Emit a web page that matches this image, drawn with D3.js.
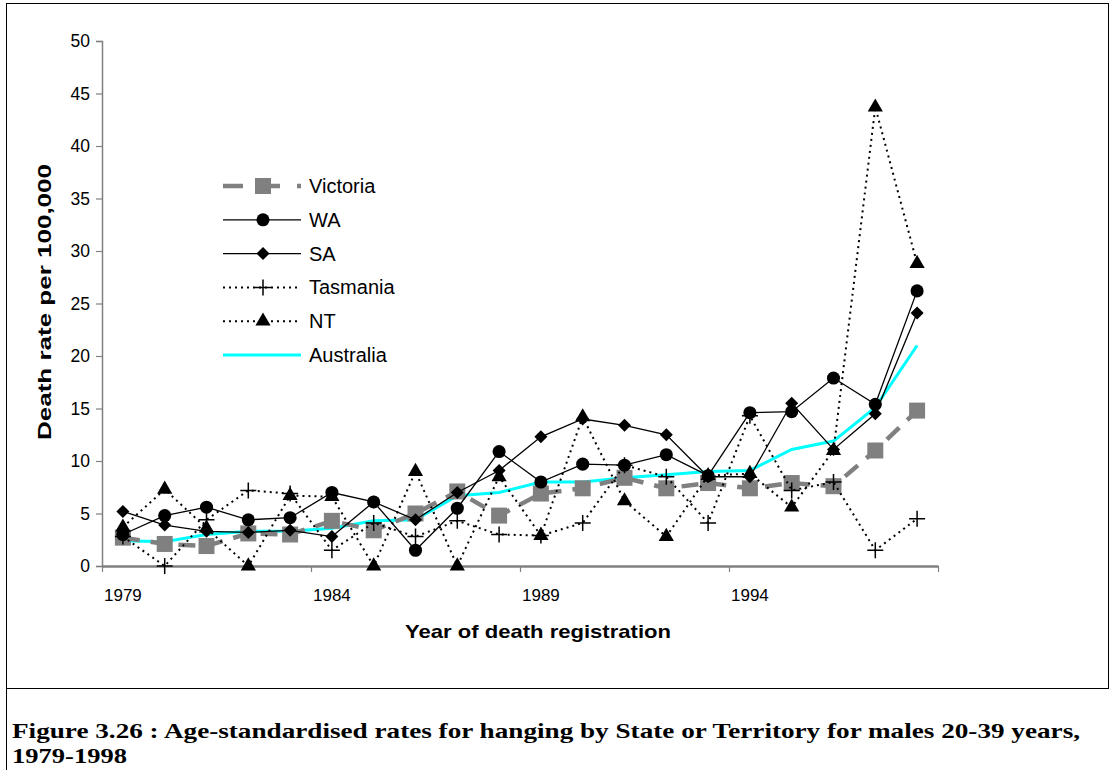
<!DOCTYPE html>
<html>
<head>
<meta charset="utf-8">
<script src="https://cdn.jsdelivr.net/npm/d3@7"></script>
<style>
  body { margin: 0; background: #fff; }
  svg { display: block; }
</style>
</head>
<body>
<div id="chart"></div>
<script>
// years on the x axis
let years = d3.range(1979, 1999);
let yearLabels = [1979, 1984, 1989, 1994];
let yTicks = [0, 5, 10, 15, 20, 25, 30, 35, 40, 45, 50];

// rates per 100,000
let victoria  = [2.7, 2.1, 1.9, 3.1, 3.0, 4.3, 3.4, 5.0, 7.1, 4.8, 6.9, 7.4, 8.4, 7.4, 7.9, 7.4, 7.9, 7.6, 11.0, 14.8];
let wa        = [3.0, 4.8, 5.6, 4.4, 4.6, 7.0, 6.1, 1.5, 5.5, 10.9, 8.0, 9.7, 9.6, 10.6, 8.6, 14.6, 14.7, 17.9, 15.4, 26.2];
let sa        = [5.2, 3.9, 3.3, 3.2, 3.4, 2.8, 6.1, 4.4, 7.0, 9.1, 12.3, 14.0, 13.4, 12.5, 8.5, 8.5, 15.5, 11.1, 14.5, 24.1];
let tasmania  = [2.8, 0.0, 4.4, 7.2, 6.9, 1.5, 4.1, 2.8, 4.3, 3.0, 2.9, 4.1, 9.6, 8.5, 4.1, 14.3, 7.2, 8.0, 1.5, 4.5];
let nt        = [3.7, 7.3, 3.6, 0.0, 6.7, 6.6, 0.0, 9.0, 0.0, 8.5, 2.9, 14.2, 6.2, 2.8, 8.6, 8.8, 5.6, 11.0, 43.7, 28.8];
let australia = [2.4, 2.3, 3.0, 3.3, 3.3, 3.6, 4.3, 4.4, 6.7, 7.0, 8.0, 8.0, 8.4, 8.7, 9.0, 9.1, 11.1, 11.9, 15.1, 21.0];

let W = 1115, H = 770;
let m = { left: 102, right: 938, top: 41, bottom: 566 };
let font = "Arial, 'Liberation Sans', sans-serif";

let svg = d3.select("#chart").append("svg")
    .attr("width", W)
    .attr("height", H);

// frame around the chart
svg.append("rect")
    .attr("x", 6.5).attr("y", 3.5)
    .attr("width", 1102).attr("height", 685)
    .attr("fill", "none").attr("stroke", "#000").attr("stroke-width", 1);
svg.append("line")
    .attr("x1", 6.5).attr("x2", 6.5).attr("y1", 688).attr("y2", H)
    .attr("stroke", "#000");

let x = d3.scaleBand()
    .domain(years)
    .range([m.left, m.right])
    .padding(0);
let xc = (d, i) => x(years[i]) + x.bandwidth() / 2;
let xEdge = d3.scaleLinear().domain([0, years.length]).range([m.left, m.right]);

let y = d3.scaleLinear().domain([0, 50]).range([m.bottom, m.top]);

// y axis
let yAxis = svg.append("g")
    .attr("transform", `translate(${ m.left }, 0)`)
    .call(d3.axisLeft(y).tickValues(yTicks).tickSize(6).tickPadding(6));
yAxis.select(".domain").attr("stroke", "#808080").attr("stroke-width", 1.5);
yAxis.selectAll(".tick line").attr("stroke", "#808080").attr("stroke-width", 1.2);
yAxis.selectAll("text")
    .attr("font-family", font).attr("font-size", 17.5).attr("fill", "#000");

// x axis: marks at category edges, labels at centres
let xAxis = svg.append("g")
    .attr("transform", `translate(0, ${ m.bottom })`)
    .call(d3.axisBottom(xEdge).tickValues([0, 5, 10, 15, 20]).tickFormat("").tickSize(6).tickSizeOuter(0));
xAxis.select(".domain").attr("stroke", "#808080").attr("stroke-width", 2.5);
xAxis.selectAll(".tick line").attr("stroke", "#808080").attr("stroke-width", 1.2);

let xLab = svg.append("g")
    .attr("transform", `translate(0, ${ m.bottom })`)
    .call(d3.axisBottom(x).tickValues(yearLabels).tickSize(0).tickPadding(23));
xLab.select(".domain").remove();
xLab.selectAll("text")
    .attr("font-family", font).attr("font-size", 17).attr("fill", "#000");

// axis titles
svg.append("text")
    .attr("x", 538).attr("y", 638)
    .attr("text-anchor", "middle")
    .attr("font-family", font).attr("font-size", 19).attr("font-weight", "bold")
    .attr("textLength", 266).attr("lengthAdjust", "spacingAndGlyphs")
    .text("Year of death registration");
svg.append("text")
    .attr("transform", "translate(51, 302) rotate(-90)")
    .attr("text-anchor", "middle")
    .attr("font-family", font).attr("font-size", 19).attr("font-weight", "bold")
    .attr("textLength", 276).attr("lengthAdjust", "spacingAndGlyphs")
    .text("Death rate per 100,000");

// caption
let cap = svg.append("g")
    .attr("font-family", "'Times New Roman', 'Liberation Serif', serif")
    .attr("font-weight", "bold").attr("font-size", 21);
cap.append("text").attr("x", 12).attr("y", 738)
    .attr("textLength", 1068).attr("lengthAdjust", "spacingAndGlyphs")
    .text("Figure 3.26 : Age-standardised rates for hanging by State or Territory for males 20-39 years,");
cap.append("text").attr("x", 12).attr("y", 763)
    .attr("textLength", 115).attr("lengthAdjust", "spacingAndGlyphs")
    .text("1979-1998");

let plus = (s) => `M${ -s },0H${ s }M0,${ -s }V${ s }`;
let diamond = (s) => `M0,${ -s }L${ s },0L0,${ s }L${ -s },0Z`;

let series = [
  { name: "Australia", data: australia, stroke: "#00ffff", width: 3, dash: null, marker: null },
  { name: "Victoria", data: victoria, stroke: "#808080", width: 4.5, dash: "17,11", marker: "square" },
  { name: "WA", data: wa, stroke: "#000", width: 1.3, dash: null, marker: "circle" },
  { name: "SA", data: sa, stroke: "#000", width: 1.3, dash: null, marker: "diamond" },
  { name: "Tasmania", data: tasmania, stroke: "#000", width: 2, dash: "2,4", marker: "plus" },
  { name: "NT", data: nt, stroke: "#000", width: 2, dash: "2,4", marker: "triangle" }
];

let symbols = {
  square: d3.symbol(d3.symbolSquare, 256)(),
  circle: d3.symbol(d3.symbolCircle, 135)(),
  diamond: diamond(6.5),
  triangle: d3.symbol(d3.symbolTriangle, 100)(),
  plus: plus(8)
};

function drawMarker(g, s) {
  let p = g.append("path").attr("d", symbols[s.marker]);
  if (s.marker == "plus")
    p.attr("fill", "none").attr("stroke", "#000").attr("stroke-width", 1.5);
  else
    p.attr("fill", s.marker == "square" ? "#808080" : "#000");
}

let line = d3.line().x(xc).y((d) => y(d));

series.forEach((s) => {
  let g = svg.append("g");
  g.append("path")
    .attr("d", line(s.data))
    .attr("fill", "none")
    .attr("stroke", s.stroke)
    .attr("stroke-width", s.width)
    .attr("stroke-dasharray", s.dash);
  if (s.marker)
    g.selectAll("g.pt")
      .data(s.data)
      .enter().append("g")
      .attr("transform", (d, i) => `translate(${ xc(d, i) }, ${ y(d) })`)
      .each(function() { drawMarker(d3.select(this), s); });
});

// legend
let legendOrder = ["Victoria", "WA", "SA", "Tasmania", "NT", "Australia"];
let leg = svg.append("g").attr("transform", "translate(223, 186)");
legendOrder.forEach((n, i) => {
  let s = series.find((d) => d.name == n);
  let row = leg.append("g").attr("transform", `translate(0, ${ i * 33.8 })`);
  row.append("line")
    .attr("x1", 0).attr("x2", 78)
    .attr("stroke", s.stroke)
    .attr("stroke-width", s.width)
    .attr("stroke-dasharray", n == "Victoria" ? "20,17" : s.dash);
  if (s.marker) {
    let mk = row.append("g").attr("transform", "translate(40, 0)");
    drawMarker(mk, s);
  }
  row.append("text")
    .attr("x", 86).attr("y", 7)
    .attr("font-family", font).attr("font-size", 20)
    .text(n);
});
</script>
</body>
</html>
